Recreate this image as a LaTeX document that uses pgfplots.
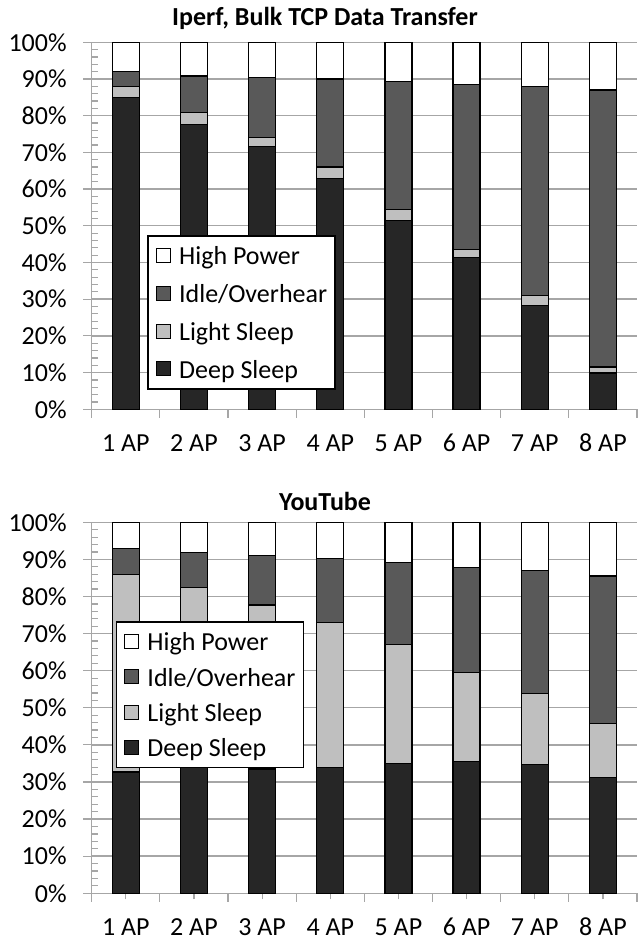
\documentclass[border=0pt]{standalone}
\usepackage{fontspec}
\setmainfont{Carlito}
\usepackage{pgfplots}
\pgfplotsset{compat=1.18}

\definecolor{deep}{HTML}{262626}
\definecolor{light}{HTML}{BFBFBF}
\definecolor{idle}{HTML}{595959}
\definecolor{gridc}{HTML}{A6A6A6}

% data: segment sizes in percent, bottom to top
\pgfplotstableread{
x deep light idle high
1 85.0 3.0 4.0 8.0
2 77.7 3.1 10.0 9.2
3 71.6 2.5 16.2 9.7
4 62.9 3.1 24.0 10.0
5 51.4 3.0 34.9 10.7
6 41.3 2.2 45.1 11.4
7 28.3 2.6 57.1 12.0
8 9.9 1.6 75.5 13.0
}\iperf
\pgfplotstableread{
x deep light idle high
1 32.7 53.3 7.0 7.0
2 33.8 48.7 9.4 8.1
3 33.5 44.2 13.3 9.0
4 33.8 39.2 17.2 9.8
5 34.9 32.1 22.1 10.9
6 35.6 23.9 28.3 12.2
7 34.7 19.1 33.1 13.1
8 31.3 14.4 39.8 14.5
}\youtube

\newcommand\chartfont{\fontsize{13pt}{15.6pt}\selectfont}

\pgfplotsset{
  apstyle/.style={
    scale only axis,
    width=272.65pt,
    ybar stacked,
    bar width=13.5pt,
    xmin=0.5, xmax=8.5,
    ymin=0, ymax=100,
    axis x line=bottom, axis y line=left,
    axis line style={-, draw=gridc, line width=0.7pt},
    xtick={0.5,1.5,...,8.5},
    x tick label as interval,
    xticklabels={1 AP,2 AP,3 AP,4 AP,5 AP,6 AP,7 AP,8 AP},
    ytick={0,10,...,100},
    yticklabel={\pgfmathprintnumber{\tick}\%},
    /pgf/number format/assume math mode=true,
    ymajorgrids,
    grid style={draw=gridc, line width=0.7pt},
    tick align=outside,
    major tick length=4.3pt,
    tick style={draw=gridc, line width=0.6pt},
    extra y ticks={2,4,...,98},
    extra y tick labels={},
    extra y tick style={grid=none, major tick length=3.3pt, tick style={xshift=3.3pt, draw=gridc}},
    font=\chartfont,
    tick label style={font=\chartfont},
    xticklabel style={anchor=base, text height=9pt, text depth=0pt, yshift=-16.8pt},
    yticklabel style={xshift=-4.7pt},
    every axis plot/.append style={draw=black, line width=0.6pt},
    reverse legend,
    legend cell align=left,
    legend image code/.code={\draw[#1, draw=black, line width=0.5pt] (0pt,-3.4pt) rectangle (7pt,3.6pt);},
    legend style={draw=black, line width=0.8pt, fill=white, anchor=north west,
      inner xsep=4pt, inner ysep=4pt,
      nodes={inner sep=0pt, text height=10.5pt, text depth=1.5pt, font=\chartfont},
      /tikz/every odd column/.append style={column sep=4pt}},
  },
}

\begin{document}
\begin{tikzpicture}
\useasboundingbox (0,0) rectangle (318.5pt,470.5pt);

\begin{axis}[apstyle, height=183.5pt, at={(45.85pt,265.85pt)}, anchor=south west,
  legend style={at={(0.102,0.475)}, row sep=6.9pt}]
\addplot[fill=deep] table[x=x, y=deep] {\iperf};
\addplot[fill=light] table[x=x, y=light] {\iperf};
\addplot[fill=idle] table[x=x, y=idle] {\iperf};
\addplot[fill=white] table[x=x, y=high] {\iperf};
\legend{Deep Sleep, Light Sleep, Idle/Overhear, High Power}
\end{axis}

\begin{axis}[apstyle, height=185.5pt, at={(45.85pt,23.85pt)}, anchor=south west,
  minor xtick={1,...,8},
  minor tick length=3pt,
  legend style={at={(0.044,0.734)}, row sep=5.65pt}]
\addplot[fill=deep] table[x=x, y=deep] {\youtube};
\addplot[fill=light] table[x=x, y=light] {\youtube};
\addplot[fill=idle] table[x=x, y=idle] {\youtube};
\addplot[fill=white] table[x=x, y=high] {\youtube};
\legend{Deep Sleep, Light Sleep, Idle/Overhear, High Power}
\end{axis}

\node[anchor=base, font=\chartfont\bfseries] at (162.5pt,457.5pt) {Iperf, Bulk TCP Data Transfer};
\node[anchor=base, font=\chartfont\bfseries] at (162.5pt,215.2pt) {YouTube};
\end{tikzpicture}
\end{document}
